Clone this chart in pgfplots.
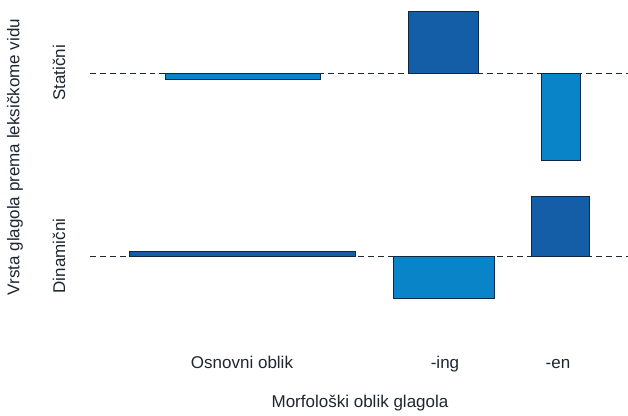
\documentclass[border=0pt]{standalone}
\usepackage{pgfplots}
\pgfplotsset{compat=1.18}
\usepackage{fontspec}
\setmainfont{Liberation Sans}
\definecolor{darkbar}{RGB}{20,94,168}
\definecolor{lightbar}{RGB}{10,132,200}
\definecolor{edge}{RGB}{12,40,72}
\definecolor{txt}{RGB}{30,38,48}
\begin{document}
\begin{tikzpicture}
\begin{axis}[
  scale only axis, width=443pt, height=289.9pt,
  xmin=0, xmax=628, ymin=0, ymax=411,
  enlargelimits=false,
  axis line style={draw=none},
  major tick length=0pt,
  tick style={draw=none},
  xtick={242,445,558},
  xticklabels={Osnovni oblik,-ing,-en},
  xticklabel style={anchor=base, font=\fontsize{12}{14}\selectfont, text=txt},
  xticklabel shift=-30.3pt,
  ytick={155,338},
  yticklabels={Dinamični,Statični},
  yticklabel style={rotate=90, anchor=base, font=\fontsize{12}{14}\selectfont, text=txt},
  yticklabel shift=-45.9pt,
  xlabel={Morfološki oblik glagola},
  xlabel style={at={(axis cs:360,8)}, anchor=center, font=\fontsize{12}{14}\selectfont, text=txt},
  ylabel={Vrsta glagola prema leksičkome vidu},
  ylabel style={at={(axis cs:15,254)}, anchor=center, rotate=0, font=\fontsize{12}{14}\selectfont, text=txt},
]
% baselines
\addplot[draw=txt, line width=0.6pt, dash pattern=on 4.2pt off 2.8pt] coordinates {(90,338) (628,338)};
\addplot[draw=txt, line width=0.6pt, dash pattern=on 4.2pt off 2.8pt] coordinates {(90,155) (628,155)};
% Statični
\addplot[fill=lightbar, draw=edge, line width=0.4pt] coordinates {(165,338) (320,338) (320,332) (165,332)} --cycle;
\addplot[fill=darkbar, draw=edge, line width=0.4pt] coordinates {(408,338) (478,338) (478,400) (408,400)} --cycle;
\addplot[fill=lightbar, draw=edge, line width=0.4pt] coordinates {(541,338) (580,338) (580,251) (541,251)} --cycle;
% Dinamični
\addplot[fill=darkbar, draw=edge, line width=0.4pt] coordinates {(129,155) (355,155) (355,160) (129,160)} --cycle;
\addplot[fill=lightbar, draw=edge, line width=0.4pt] coordinates {(393,155) (494,155) (494,113) (393,113)} --cycle;
\addplot[fill=darkbar, draw=edge, line width=0.4pt] coordinates {(531,155) (589,155) (589,215) (531,215)} --cycle;
\end{axis}
\end{tikzpicture}
\end{document}
